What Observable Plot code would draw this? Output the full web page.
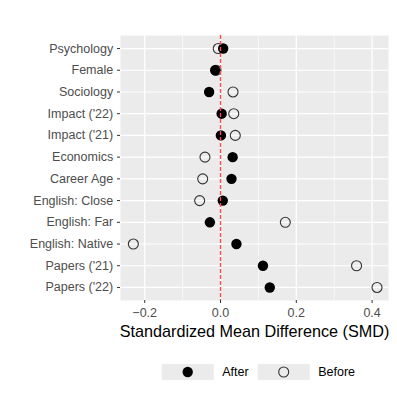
<!DOCTYPE html>
<html>
<head>
<meta charset="utf-8">
<script src="https://cdn.jsdelivr.net/npm/d3@7"></script>
<script src="https://cdn.jsdelivr.net/npm/@observablehq/plot@0.6"></script>
<style>
  html, body { margin: 0; padding: 0; background: white; }
  #chart { width: 397px; }
</style>
</head>
<body>
<div id="chart"></div>
<script>
const labels = ["Psychology", "Female", "Sociology", "Impact ('22)", "Impact ('21)", "Economics",
  "Career Age", "English: Close", "English: Far", "English: Native", "Papers ('21)", "Papers ('22)"];
const after  = [0.007, -0.014, -0.030, 0.003, 0.001, 0.032, 0.029, 0.006, -0.028, 0.042, 0.112, 0.130];
const before = [-0.006, -0.012, 0.033, 0.035, 0.039, -0.041, -0.047, -0.055, 0.171, -0.230, 0.359, 0.413];
const majorTicks = [-0.2, 0.0, 0.2, 0.4];
const minorTicks = [-0.1, 0.1, 0.3];
const seriesNames = ["After", "Before"];
const xLabel = "Standardized Mean Difference (SMD)";

const rows = labels.map((label, i) => ({label, after: after[i], before: before[i]}));
const font = "'Liberation Sans', Arial, Helvetica, sans-serif";

const plot = Plot.plot({
  width: 397,
  height: 345,
  marginLeft: 120,
  marginRight: 9,
  marginTop: 35,
  marginBottom: 45,
  style: {fontFamily: font, fontSize: "12.5px", background: "white", overflow: "visible"},
  x: {domain: [-0.2639, 0.4433]},
  y: {domain: labels, type: "point", padding: 0.6, round: false},
  marks: [
    Plot.frame({fill: "#EBEBEB", stroke: null}),
    Plot.ruleX(minorTicks, {stroke: "white", strokeWidth: 0.6}),
    Plot.ruleX(majorTicks, {stroke: "white", strokeWidth: 1.2}),
    Plot.ruleY(labels, {stroke: "white", strokeWidth: 1.2}),
    Plot.dot(rows, {x: "before", y: "label", r: 5, stroke: "#333333", strokeWidth: 1.1, fill: "none"}),
    Plot.dot(rows, {x: "after", y: "label", r: 5.2, fill: "black", stroke: null}),
    Plot.ruleX([0], {stroke: "#ff4d4d", strokeDasharray: "4,2", strokeWidth: 1.4}),
    Plot.axisX({ticks: majorTicks, tickFormat: d3.format(".1f"), tickSize: 3, tickPadding: 5,
      stroke: "#333333", fill: "#4D4D4D", label: null, fontSize: 12.5}),
    Plot.axisY({tickSize: 3, tickPadding: 4.3, stroke: "#333333", fill: "#4D4D4D", label: null, fontSize: 12.5}),
    Plot.text([xLabel], {frameAnchor: "bottom", dy: 31, lineAnchor: "middle", fontSize: 16.2, fill: "black"})
  ]
});
document.getElementById("chart").appendChild(plot);

// Legend below the plot
const legend = d3.select("#chart").append("svg")
  .attr("width", 397).attr("height", 52)
  .style("display", "block")
  .style("font-family", font);
const keyX = [161.7, 257.7];
const keyW = 52, keyH = 16, keyY = 19;
seriesNames.forEach((name, i) => {
  const g = legend.append("g");
  g.append("rect").attr("x", keyX[i]).attr("y", keyY).attr("width", keyW).attr("height", keyH).attr("fill", "#EBEBEB");
  const c = g.append("circle").attr("cx", keyX[i] + keyW / 2).attr("cy", keyY + keyH / 2);
  if (name === "After") c.attr("r", 5.2).attr("fill", "black");
  else c.attr("r", 5).attr("fill", "none").attr("stroke", "#333333").attr("stroke-width", 1.1);
  g.append("text").attr("x", keyX[i] + keyW + 8.5).attr("y", keyY + keyH / 2).attr("dy", "0.35em")
    .attr("font-size", 12.5).attr("fill", "black").text(name);
});
</script>
</body>
</html>
